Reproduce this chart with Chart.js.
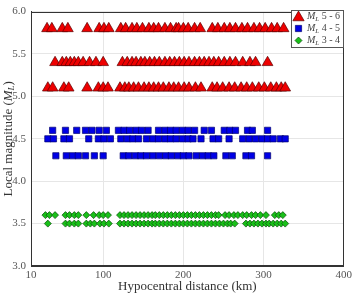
<!DOCTYPE html>
<html>
<head>
<meta charset="utf-8">
<script src="https://cdn.jsdelivr.net/npm/chart.js@4/dist/chart.umd.min.js"></script>
<style>
  html, body { margin: 0; padding: 0; background: #ffffff; }
  #wrap { width: 355px; height: 294px; position: relative; }
</style>
</head>
<body>
<div id="wrap"><canvas id="c" width="355" height="294"></canvas></div>
<script>
// ---- Data (hypocentral distance in km, per magnitude level) ----
const xTicks = [10, 100, 200, 300, 400];
const yTicks = [3.0, 3.5, 4.0, 4.5, 5.0, 5.5, 6.0];

const ml56Levels = [5.8, 5.4, 5.1];
const ml56_58 = [30, 36, 49, 56, 80, 95, 101, 107, 122, 128, 136, 142, 149, 157, 163, 169, 177, 184, 191, 194, 200, 206, 214, 221, 236, 243, 251, 258, 265, 273, 280, 288, 295, 302, 310, 317, 325];
const ml56_54 = [40, 49, 54, 59, 64, 69, 75, 83, 91, 100, 124, 130, 136, 141, 147, 152, 158, 164, 170, 177, 183, 189, 195, 201, 207, 214, 220, 226, 232, 238, 244, 251, 258, 265, 274, 283, 290, 305];
const ml56_51 = [31, 37, 51, 57, 80, 94, 100, 106, 121, 127, 132, 138, 144, 151, 157, 163, 169, 175, 182, 188, 194, 201, 207, 215, 222, 236, 242, 249, 257, 264, 272, 279, 286, 294, 301, 309, 316, 322, 327];

const ml45Levels = [4.6, 4.5, 4.3];
const ml45_46 = [37, 53, 67, 78, 86, 95, 104, 119, 126, 133, 141, 148, 156, 169, 177, 184, 191, 199, 206, 214, 226, 235, 251, 258, 265, 280, 286, 305];
const ml45_45 = [31, 38, 51, 58, 82, 94, 101, 109, 122, 130, 137, 144, 154, 162, 169, 177, 184, 191, 199, 206, 212, 222, 237, 244, 257, 274, 282, 290, 298, 305, 312, 321, 327];
const ml45_43 = [41, 54, 62, 69, 78, 89, 100, 125, 132, 140, 147, 154, 162, 170, 178, 185, 193, 200, 207, 216, 224, 231, 238, 253, 261, 278, 285, 305];

const ml34Levels = [3.6, 3.5];
const ml34_36 = [28, 33, 40, 53, 58, 64, 69, 79, 88, 95, 100, 106, 121, 126, 131, 136, 141, 146, 151, 156, 161, 165, 170, 175, 180, 185, 190, 195, 200, 205, 210, 215, 220, 225, 230, 235, 240, 244, 252, 257, 263, 268, 274, 279, 285, 290, 296, 303, 314, 319, 324];
const ml34_35 = [31, 53, 58, 64, 69, 79, 84, 89, 96, 101, 107, 121, 126, 131, 136, 141, 146, 151, 156, 161, 165, 170, 175, 180, 185, 190, 195, 200, 205, 210, 215, 220, 225, 230, 235, 240, 245, 250, 255, 259, 264, 278, 283, 288, 293, 298, 303, 307, 312, 317, 322, 327];

const seriesLabels = ['5 - 6', '4 - 5', '3 - 4'];

function toPoints(rows, levels) {
  const pts = [];
  rows.forEach((row, i) => row.forEach(x => pts.push({ x: x, y: levels[i] })));
  return pts;
}

const FONT = "'Liberation Serif', 'DejaVu Serif', serif";

// Axis title with subscript + legend + full box
const decor = {
  id: 'decor',
  afterDraw(chart) {
    const ctx = chart.ctx;
    const a = chart.chartArea;
    ctx.save();
    // box
    ctx.strokeStyle = '#333333';
    ctx.lineWidth = 1;
    ctx.strokeRect(Math.round(a.left) + 0.5, Math.round(a.top) + 0.5, Math.round(a.right - a.left) - 1, Math.round(a.bottom - a.top) - 1);

    function parts(list) {
      let w = 0;
      list.forEach(p => { ctx.font = p.f; w += ctx.measureText(p.t).width; });
      return w;
    }
    function drawParts(list, x, y) {
      list.forEach(p => {
        ctx.font = p.f;
        ctx.fillText(p.t, x, y + (p.dy || 0));
        x += ctx.measureText(p.t).width;
      });
    }

    // y axis title
    const yt = [
      { t: 'Local magnitude (', f: '13px ' + FONT },
      { t: 'M', f: 'italic 13px ' + FONT },
      { t: 'L', f: 'italic 9px ' + FONT, dy: 3 },
      { t: ')', f: '13px ' + FONT }
    ];
    ctx.fillStyle = '#333333';
    ctx.textBaseline = 'middle';
    ctx.textAlign = 'left';
    ctx.save();
    ctx.translate(9, (a.top + a.bottom) / 2);
    ctx.rotate(-Math.PI / 2);
    drawParts(yt, -parts(yt) / 2, 0);
    ctx.restore();

    // legend
    const lx = 291, ly = 10, lw = 52, lh = 37;
    ctx.fillStyle = '#ffffff';
    ctx.fillRect(lx, ly, lw, lh);
    ctx.strokeStyle = '#555555';
    ctx.lineWidth = 1;
    ctx.strokeRect(lx + 0.5, ly + 0.5, lw, lh);
    const rowsY = [16, 28.5, 40.5];
    chart.data.datasets.forEach((ds, i) => {
      const y = rowsY[i];
      ctx.fillStyle = ds.backgroundColor;
      ctx.strokeStyle = ds.borderColor;
      ctx.lineWidth = ds.borderWidth;
      Chart.helpers.drawPoint(ctx, {
        pointStyle: ds.pointStyle,
        rotation: 0,
        radius: ds.legendRadius,
        borderWidth: ds.borderWidth
      }, 298.5, y + (i === 0 ? 1.5 : 0));
      ctx.fillStyle = '#444444';
      ctx.textBaseline = 'middle';
      drawParts([
        { t: 'M', f: 'italic 10px ' + FONT },
        { t: 'L', f: 'italic 7px ' + FONT, dy: 3 },
        { t: ' ' + seriesLabels[i], f: '10px ' + FONT }
      ], 307, y);
    });
    ctx.restore();
  }
};

new Chart(document.getElementById('c'), {
  type: 'scatter',
  data: {
    datasets: [
      {
        label: 'ML ' + seriesLabels[0],
        data: toPoints([ml56_58, ml56_54, ml56_51], ml56Levels),
        pointStyle: 'triangle',
        pointRadius: 6.2,
        legendRadius: 6.5,
        backgroundColor: '#ee0000',
        borderColor: '#5a0000',
        borderWidth: 0.7
      },
      {
        label: 'ML ' + seriesLabels[1],
        data: toPoints([ml45_46, ml45_45, ml45_43], ml45Levels),
        pointStyle: 'rect',
        pointRadius: 4.4,
        legendRadius: 4.4,
        backgroundColor: '#0000e6',
        borderColor: '#000070',
        borderWidth: 0.7
      },
      {
        label: 'ML ' + seriesLabels[2],
        data: toPoints([ml34_36, ml34_35], ml34Levels),
        pointStyle: 'rectRot',
        pointRadius: 3.5,
        legendRadius: 3.5,
        backgroundColor: '#19c019',
        borderColor: '#0a4a0a',
        borderWidth: 0.7
      }
    ]
  },
  options: {
    responsive: false,
    animation: false,
    events: [],
    layout: { padding: { top: 7, right: 8, left: 0, bottom: 0 } },
    plugins: { legend: { display: false }, tooltip: { enabled: false } },
    scales: {
      x: {
        type: 'linear',
        min: 10,
        max: 400,
        afterBuildTicks: s => { s.ticks = xTicks.map(v => ({ value: v })); },
        afterFit: s => { s.height = 28; },
        grid: { color: '#e6e6e6', drawTicks: false },
        border: { color: '#333333' },
        ticks: { padding: 3, color: '#555555', font: { family: FONT, size: 11 }, callback: v => String(v) },
        title: { display: true, text: 'Hypocentral distance (km)', color: '#333333', font: { family: FONT, size: 13 }, padding: 0 }
      },
      y: {
        min: 3,
        max: 6,
        afterBuildTicks: s => { s.ticks = yTicks.map(v => ({ value: v })); },
        afterFit: s => { s.width = 31; },
        grid: { color: '#e6e6e6', drawTicks: false },
        border: { color: '#333333' },
        ticks: { padding: 5, color: '#555555', font: { family: FONT, size: 11 }, callback: v => Number(v).toFixed(1) }
      }
    }
  },
  plugins: [decor]
});
</script>
</body>
</html>
